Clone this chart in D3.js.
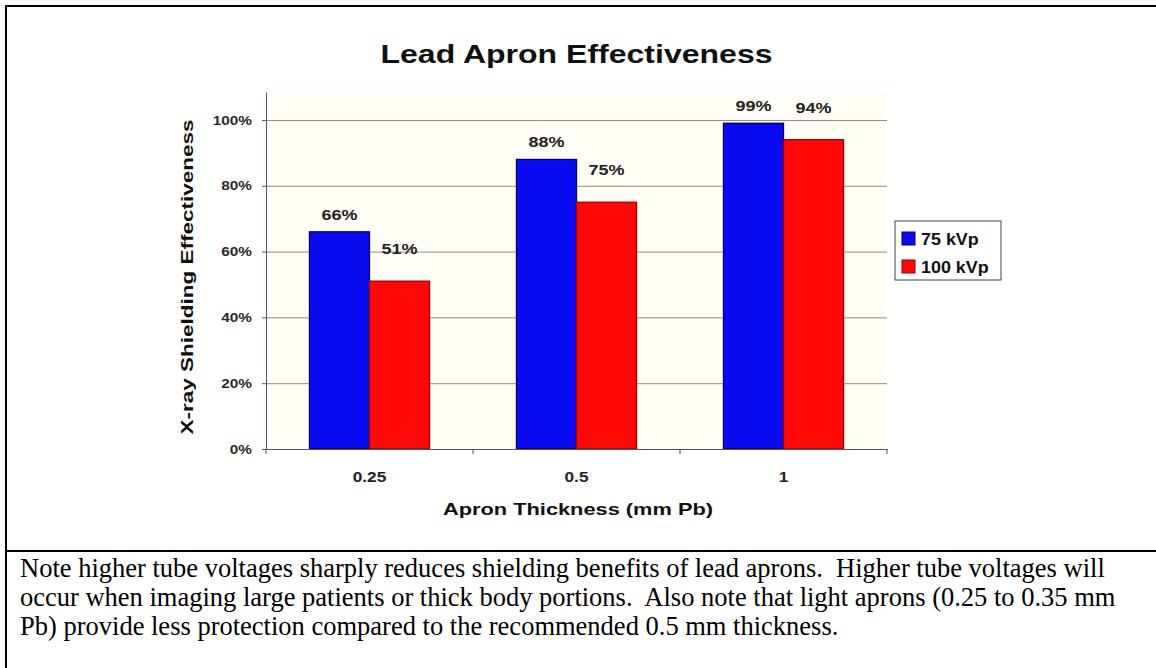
<!DOCTYPE html>
<html>
<head>
<meta charset="utf-8">
<script src="https://cdn.jsdelivr.net/npm/d3@7"></script>
<style>
  html, body { margin: 0; padding: 0; background: #fff; }
  svg { display: block; }
</style>
</head>
<body>
<svg id="chart" width="1156" height="668"></svg>
<script>
// data
const categories = ['0.25', '0.5', '1'];
const seriesNames = ['75 kVp', '100 kVp'];
const kvp75 = [0.66, 0.88, 0.99];
const kvp100 = [0.51, 0.75, 0.94];
const yTicks = [0, 0.2, 0.4, 0.6, 0.8, 1];
const captionLines = [
  'Note higher tube voltages sharply reduces shielding benefits of lead aprons.\u00a0 Higher tube voltages will',
  'occur when imaging large patients or thick body portions.\u00a0 Also note that light aprons (0.25 to 0.35 mm',
  'Pb) provide less protection compared to the recommended 0.5 mm thickness.'
];

const colors = { '75 kVp': '#0b0bf2', '100 kVp': '#ff0808' };
const strokes = { '75 kVp': '#000066', '100 kVp': '#9a0000' };
const labelLift = { '75 kVp': 12, '100 kVp': 27 }; // the red labels sit higher in the original

const svg = d3.select('#chart');
const plot = { left: 266, right: 887, top: 92, bottom: 449 };
const sans = '"Liberation Sans", Arial, sans-serif';

// page frame (table border) and caption separator
svg.append('line').attr('x1', 6).attr('x2', 1156).attr('y1', 6).attr('y2', 6)
  .attr('stroke', '#000').attr('stroke-width', 2);
svg.append('line').attr('x1', 6).attr('x2', 6).attr('y1', 5).attr('y2', 668)
  .attr('stroke', '#000').attr('stroke-width', 2);
svg.append('line').attr('x1', 6).attr('x2', 1156).attr('y1', 551).attr('y2', 551)
  .attr('stroke', '#000').attr('stroke-width', 2);

const x0 = d3.scaleBand()
  .domain(categories)
  .range([plot.left, plot.right])
  .paddingInner(0.42)
  .paddingOuter(0.21);

const x1 = d3.scaleBand()
  .domain(seriesNames)
  .range([0, x0.bandwidth()]);

const y = d3.scaleLinear()
  .domain([0, 1.085])
  .range([plot.bottom, plot.top]);

const rows = categories.map((c, i) => ({ cat: c, values: [kvp75[i], kvp100[i]] }));

// faint cream plot background
svg.append('rect')
  .attr('x', plot.left).attr('y', plot.top)
  .attr('width', plot.right - plot.left).attr('height', plot.bottom - plot.top)
  .attr('fill', '#fffdf6');

// gridlines
const grid = svg.append('g')
  .attr('transform', `translate(${plot.left},0)`)
  .call(d3.axisLeft(y).tickValues(yTicks.slice(1)).tickSize(-(plot.right - plot.left)).tickFormat(''));
grid.select('.domain').remove();
grid.selectAll('line').attr('stroke', '#8c8c8c');

// y axis with labels
const yAxis = svg.append('g')
  .attr('transform', `translate(${plot.left},0)`)
  .call(d3.axisLeft(y).tickValues(yTicks).tickFormat(d3.format('.0%')).tickSize(4).tickPadding(8).tickSizeOuter(0));
yAxis.select('.domain').attr('stroke', '#555');
yAxis.selectAll('line').attr('stroke', '#555');
yAxis.selectAll('text')
  .attr('transform', 'scale(1.18,1)')
  .style('font-family', sans).style('font-weight', 'bold').style('font-size', '13px')
  .attr('fill', '#2a2a2a');

// bars
const groups = svg.append('g')
  .selectAll('g')
  .data(rows)
  .enter()
  .append('g')
  .attr('transform', (d) => `translate(${x0(d.cat)},0)`);

groups.selectAll('rect')
  .data((d) => d.values.map((v, i) => ({ name: seriesNames[i], value: v })))
  .enter()
  .append('rect')
  .attr('x', (d) => x1(d.name))
  .attr('y', (d) => y(d.value))
  .attr('width', x1.bandwidth())
  .attr('height', (d) => plot.bottom - y(d.value))
  .attr('fill', (d) => colors[d.name])
  .attr('stroke', (d) => strokes[d.name])
  .attr('stroke-width', 1.3);

// value labels
groups.selectAll('text.val')
  .data((d) => d.values.map((v, i) => ({ name: seriesNames[i], value: v })))
  .enter()
  .append('text')
  .attr('class', 'val')
  .attr('transform', (d) => `translate(${x1(d.name) + x1.bandwidth() / 2},${y(d.value) - labelLift[d.name]}) scale(1.2,1)`)
  .attr('text-anchor', 'middle')
  .style('font-family', sans).style('font-weight', 'bold').style('font-size', '15px')
  .attr('fill', '#222')
  .text((d) => `${Math.round(d.value * 100)}%`);

// x axis
const xAxis = svg.append('g')
  .attr('transform', `translate(0,${plot.bottom})`)
  .call(d3.axisBottom(x0).tickSize(0).tickPadding(22).tickSizeOuter(0));
xAxis.select('.domain').attr('stroke', '#555');
xAxis.selectAll('text')
  .attr('transform', 'scale(1.15,1)')
  .style('font-family', sans).style('font-weight', 'bold').style('font-size', '15px')
  .attr('fill', '#222');

// category boundary ticks
const step = x0.step();
const bounds = [plot.left].concat(categories.map((c) => x0(c) + x0.bandwidth() + (step - x0.bandwidth()) / 2));
svg.append('g')
  .selectAll('line')
  .data(bounds)
  .enter()
  .append('line')
  .attr('x1', (d) => d).attr('x2', (d) => d)
  .attr('y1', plot.bottom).attr('y2', plot.bottom + 5)
  .attr('stroke', '#555');

// titles
svg.append('text')
  .attr('x', (plot.left + plot.right) / 2).attr('y', 63)
  .attr('text-anchor', 'middle')
  .attr('textLength', 392).attr('lengthAdjust', 'spacingAndGlyphs')
  .style('font-family', sans).style('font-weight', 'bold').style('font-size', '25px')
  .attr('fill', '#111')
  .text('Lead Apron Effectiveness');

svg.append('text')
  .attr('x', 578).attr('y', 515)
  .attr('text-anchor', 'middle')
  .attr('textLength', 270).attr('lengthAdjust', 'spacingAndGlyphs')
  .style('font-family', sans).style('font-weight', 'bold').style('font-size', '17px')
  .attr('fill', '#111')
  .text('Apron Thickness (mm Pb)');

svg.append('text')
  .attr('transform', 'translate(193,277) rotate(-90)')
  .attr('text-anchor', 'middle')
  .attr('textLength', 315).attr('lengthAdjust', 'spacingAndGlyphs')
  .style('font-family', sans).style('font-weight', 'bold').style('font-size', '17px')
  .attr('fill', '#111')
  .text('X-ray Shielding Effectiveness');

// legend
const legend = svg.append('g').attr('transform', 'translate(895,221)');
legend.append('rect')
  .attr('width', 106).attr('height', 59)
  .attr('fill', '#fff').attr('stroke', '#444');
const items = legend.selectAll('g')
  .data(seriesNames)
  .enter()
  .append('g')
  .attr('transform', (d, i) => `translate(7,${11 + i * 28})`);
items.append('rect')
  .attr('width', 13).attr('height', 13)
  .attr('fill', (d) => colors[d])
  .attr('stroke', (d) => strokes[d]);
items.append('text')
  .attr('transform', 'translate(19,13) scale(1.12,1)')
  .style('font-family', sans).style('font-weight', 'bold').style('font-size', '16px')
  .attr('fill', '#111')
  .text((d) => d);

// caption
svg.append('g')
  .selectAll('text')
  .data(captionLines)
  .enter()
  .append('text')
  .attr('x', 20)
  .attr('y', (d, i) => 577 + i * 29)
  .style('font-family', '"Liberation Serif", "Times New Roman", serif')
  .style('font-size', '26.5px')
  .style('white-space', 'pre')
  .attr('fill', '#000')
  .text((d) => d);
</script>
</body>
</html>
